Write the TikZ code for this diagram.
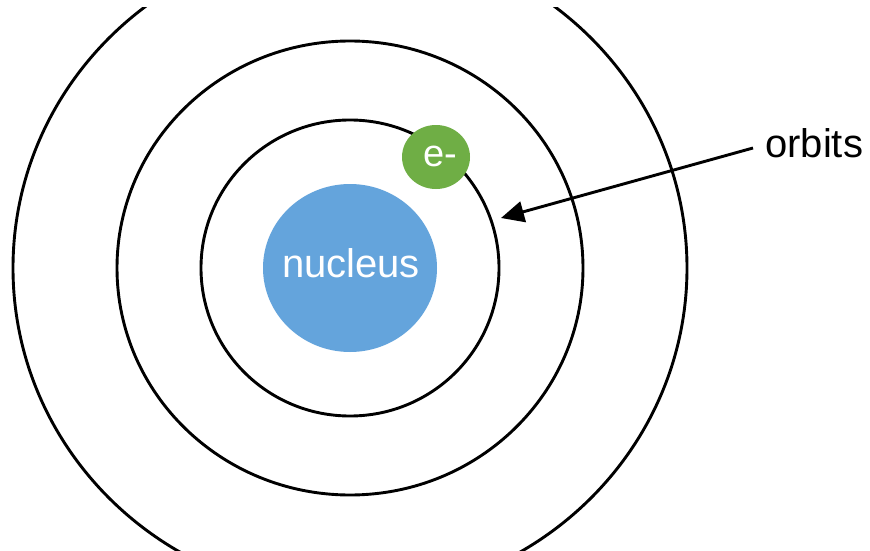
\documentclass[tikz,border=0pt]{standalone}
\usepackage{fontspec}
\setmainfont{Liberation Sans}
\usetikzlibrary{arrows.meta}
\definecolor{nucblue}{RGB}{100,164,220}
\definecolor{elgreen}{RGB}{111,174,69}
\tikzset{
  orbit/.style={draw=black, line width=2.9pt},
  label40/.style={font=\fontsize{40}{48}\selectfont, inner sep=0pt},
  pointer/.style={draw=black, line width=2.9pt, -{Triangle[length=23pt,width=21pt]}}
}
\begin{document}
\begin{tikzpicture}[x=1pt, y=-1pt]
  \useasboundingbox[fill=white] (0,0) rectangle (870,551);
  % atom centre
  \coordinate (c) at (350,268);
  \begin{scope}
    \clip (0,8) rectangle (870,551);
    % three orbits
    \draw[orbit] (c) ellipse [x radius=149, y radius=148];
    \draw[orbit] (c) ellipse [x radius=233, y radius=227];
    \draw[orbit] (c) ellipse [x radius=337, y radius=329];
  \end{scope}
  % nucleus
  \fill[nucblue] (c) ellipse [x radius=87, y radius=84];
  \node[label40, text=white, anchor=base, font=\fontsize{40}{48}\selectfont] (nuc) at (351,277) {nucleus};
  % electron
  \fill[elgreen] (436,157) ellipse [x radius=34, y radius=32];
  \node[inner sep=0pt, text=white, anchor=base, font=\fontsize{38}{45}\selectfont] (el) at (440,166) {e-};
  % label and pointer
  \node[label40, anchor=base west] (lbl) at (765,157) {orbits};
  \coordinate (tip) at (501,218);
  \draw[pointer] (lbl.west |- 0,148) ++(-12,0) coordinate (tail) -- (tip);
\end{tikzpicture}
\end{document}
